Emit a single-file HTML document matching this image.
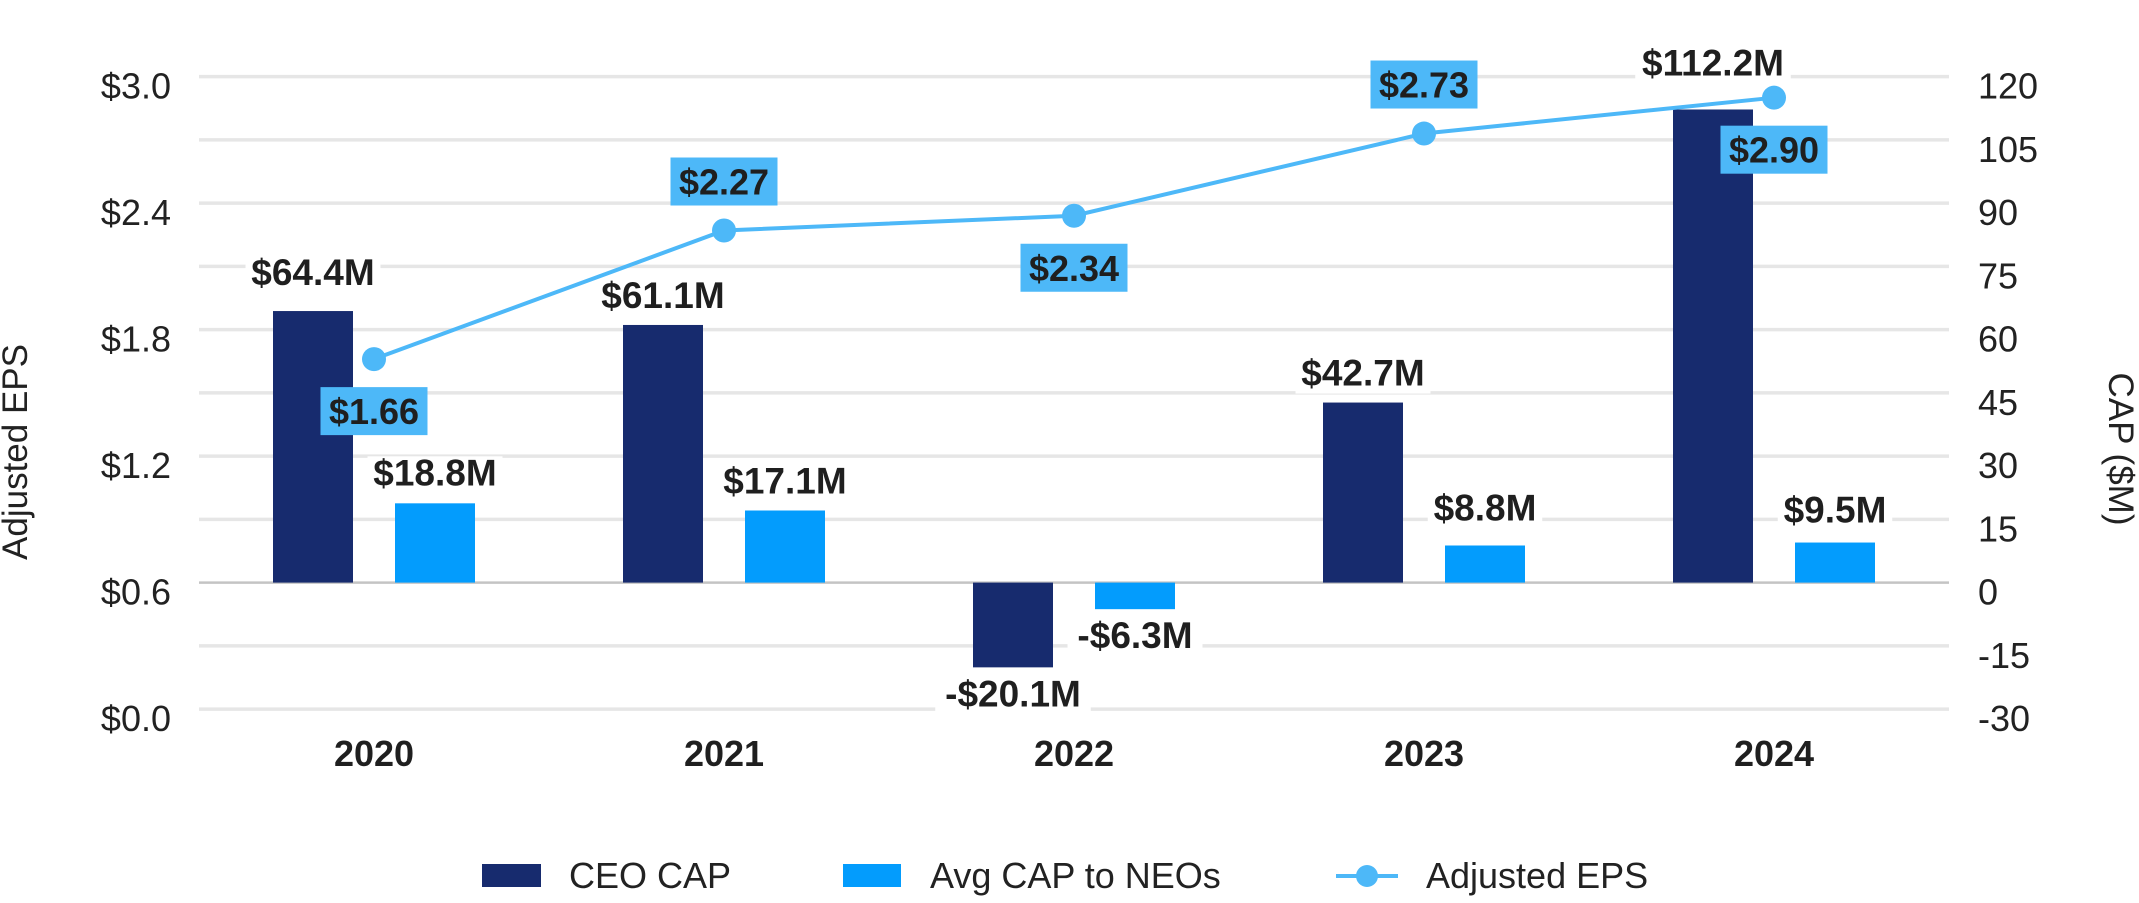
<!DOCTYPE html>
<html><head><meta charset="utf-8"><style>
html,body{margin:0;padding:0;background:#fff;}
svg{display:block;font-family:"Liberation Sans",Arial,sans-serif;}
</style></head><body>
<svg id="chart" width="2139" height="903" viewBox="0 0 2139 903"></svg>
<script>
const years = ["2020","2021","2022","2023","2024"];
const ceoCap = [64.4, 61.1, -20.1, 42.7, 112.2];
const avgCap = [18.8, 17.1, -6.3, 8.8, 9.5];
const eps = [1.66, 2.27, 2.34, 2.73, 2.90];
const ceoLabels = ["$64.4M","$61.1M","-$20.1M","$42.7M","$112.2M"];
const avgLabels = ["$18.8M","$17.1M","-$6.3M","$8.8M","$9.5M"];
const epsLabels = ["$1.66","$2.27","$2.34","$2.73","$2.90"];
const leftTicks = [0.0,0.6,1.2,1.8,2.4,3.0];
const leftTickLabels = ["$0.0","$0.6","$1.2","$1.8","$2.4","$3.0"];
const rightTicks = [-30,-15,0,15,30,45,60,75,90,105,120];
const epsLabelSide = ["below","above","below","above","below"];
const ceoLabelLift = [9,0,0,0,17];
const avgLabelLift = [1,0,0,8,3];

const NS="http://www.w3.org/2000/svg";
const svg=document.getElementById('chart');
const X0=199, X1=1949, Y0=709.1, Y1=76.6;
const epsY=v=>Y0-(v/3.0)*(Y0-Y1);
const capY=v=>Y0-((v+30)/150)*(Y0-Y1);
const band=(X1-X0)/years.length;
const xc=i=>X0+band*(i+0.5);
function el(tag,attrs,parent){const e=document.createElementNS(NS,tag);for(const k in attrs)e.setAttribute(k,attrs[k]);(parent||svg).appendChild(e);return e;}
function txt(s,attrs,parent){const e=el('text',attrs,parent);e.textContent=s;return e;}

for(let v=-30;v<=120;v+=15){
  if(v===0) continue;
  const g=el('line',{x1:X0,x2:X1,y1:capY(v),y2:capY(v),stroke:'#e6e6e6','stroke-width':3.5});
  
  
}
const base=el('line',{x1:X0,x2:X1,y1:capY(0),y2:capY(0),stroke:'#c4c4c4','stroke-width':2.5});



leftTicks.forEach((v,i)=>{
  const t=txt(leftTickLabels[i],{x:171,y:epsY(v)+22,'text-anchor':'end','font-size':36,fill:'#222'});
  
  
});
rightTicks.forEach(v=>{
  const t=txt(String(v),{x:1978,y:capY(v)+22,'font-size':36,fill:'#222'});
  
  
});

const lt=txt('Adjusted EPS',{x:0,y:0,'text-anchor':'middle','font-size':35,fill:'#222',transform:'translate(27,452) rotate(-90)'});


const rt=txt('CAP ($M)',{x:0,y:0,'text-anchor':'middle','font-size':35,fill:'#222',transform:'translate(2109,449) rotate(90)'});



const BW=80, OFF=61;
function barLabel(s,cx,v,top,bottom,lift,name){
  const fs=37;
  let y;
  if(v>=0) y=top-17-lift; else y=bottom+14+25;
  const w=s.length*20.5+12;
  const bg=el('rect',{x:cx-w/2,y:y-29,width:w,height:37,fill:'#fff'});
  
  
  const t=txt(s,{x:cx,y:y,'text-anchor':'middle','font-size':fs,'font-weight':'bold',fill:'#1f1f1f'});
  
  
}
years.forEach((yr,i)=>{
  const c=xc(i);
  const y0=capY(0);
  const yc=capY(ceoCap[i]);
  const b1=el('rect',{x:c-OFF-BW/2,y:Math.min(y0,yc),width:BW,height:Math.abs(yc-y0),fill:'#172b6e'});
  
  
  const ya=capY(avgCap[i]);
  const b2=el('rect',{x:c+OFF-BW/2,y:Math.min(y0,ya),width:BW,height:Math.abs(ya-y0),fill:'#039cfd'});
  
  
  const yl=txt(yr,{x:c,y:766,'text-anchor':'middle','font-size':36,'font-weight':'bold',fill:'#1f1f1f'});
  
  
});
years.forEach((yr,i)=>{
  const c=xc(i);
  barLabel(ceoLabels[i],c-OFF,ceoCap[i],Math.min(capY(0),capY(ceoCap[i])),Math.max(capY(0),capY(ceoCap[i])),ceoLabelLift[i],'ceo-cap-label');
  barLabel(avgLabels[i],c+OFF,avgCap[i],Math.min(capY(0),capY(avgCap[i])),Math.max(capY(0),capY(avgCap[i])),avgLabelLift[i],'avg-cap-label');
});

const pts=eps.map((v,i)=>xc(i)+','+epsY(v)).join(' ');
const line=el('polyline',{points:pts,fill:'none',stroke:'#4db8f8','stroke-width':4});


eps.forEach((v,i)=>{
  const c=xc(i), py=epsY(v);
  const m=el('circle',{cx:c,cy:py,r:12,fill:'#4db8f8'});
  
  
  const top=epsLabelSide[i]==='below'?py+28:py-25-48;
  const r=el('rect',{x:c-53.5,y:top,width:107,height:48,fill:'#4db8f8'});
  
  
  const t=txt(epsLabels[i],{x:c,y:top+37,'text-anchor':'middle','font-size':36,'font-weight':'bold',fill:'#1f1f1f'});
  
  
});

const g=el('g',{});


const s1=el('rect',{x:482,y:864,width:59,height:23,fill:'#172b6e'},g);


const l1=txt('CEO CAP',{x:569,y:888,'font-size':36,fill:'#222'},g);


const s2=el('rect',{x:843,y:864,width:58,height:23,fill:'#039cfd'},g);


const l2=txt('Avg CAP to NEOs',{x:930,y:888,'font-size':36,fill:'#222'},g);


const s3=el('line',{x1:1336,x2:1398,y1:876,y2:876,stroke:'#4db8f8','stroke-width':4},g);


const s4=el('circle',{cx:1367,cy:876,r:11,fill:'#4db8f8'},g);


const l3=txt('Adjusted EPS',{x:1426,y:888,'font-size':36,fill:'#222'},g);


</script>
</body></html>
